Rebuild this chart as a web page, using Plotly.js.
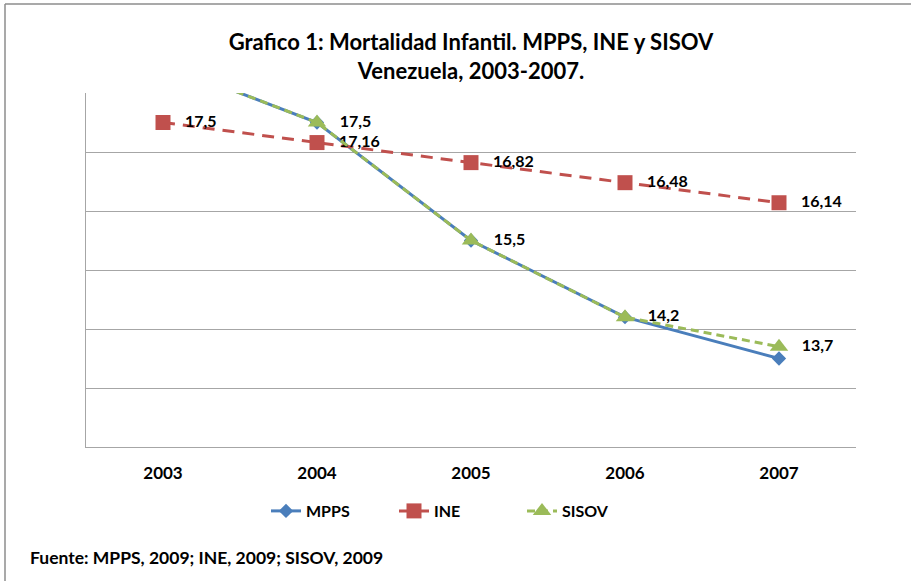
<!DOCTYPE html>
<html>
<head>
<meta charset="utf-8">
<script src="https://cdn.plot.ly/plotly-3.0.1.min.js"></script>
<style>body{margin:0;padding:0;background:#fff;} #chart{width:911px;height:581px;}</style>
</head>
<body>
<div id="chart"></div>
<script>
const years = ['2003', '2004', '2005', '2006', '2007'];
const mpps = [18.5, 17.5, 15.5, 14.2, 13.5];
const ine = [17.5, 17.16, 16.82, 16.48, 16.14];
const sisov = [18.5, 17.5, 15.5, 14.2, 13.7];
const sisovLabelShown = [false, true, true, true, true];

const pad = '\u00a0\u00a0\u00a0';
const fmt = v => pad + String(v).replace('.', ',');
const FONT = 'Lato, "Open Sans", sans-serif';

const W = 911, H = 581;
const L = 86, R = 856, T = 93, B = 447;
const pw = R - L, ph = B - T;
const px = x => (x - L) / pw;
const py = y => (B - y) / ph;

const traces = [
  {
    x: years, y: mpps, name: 'MPPS', type: 'scatter', mode: 'lines+markers',
    line: {color: '#4A7EBB', width: 3},
    marker: {symbol: 'diamond', size: 11, color: '#4A7EBB'},
    cliponaxis: true
  },
  {
    x: years, y: ine, name: 'INE', type: 'scatter', mode: 'lines+markers+text',
    line: {color: '#C0504D', width: 3, dash: '12px,8px'},
    marker: {symbol: 'square', size: 15, color: '#C0504D'},
    text: ine.map(fmt), textposition: 'middle right',
    textfont: {family: FONT, size: 16, color: '#000', weight: 'bold'},
    cliponaxis: true
  },
  {
    x: years, y: sisov, name: 'SISOV', type: 'scatter', mode: 'lines+markers+text',
    line: {color: '#9BBB59', width: 3, dash: '8px,5px'},
    marker: {symbol: 'triangle-up', size: 16, color: '#9BBB59'},
    text: sisov.map((v, i) => sisovLabelShown[i] ? fmt(v) : ''), textposition: 'middle right',
    textfont: {family: FONT, size: 16, color: '#000', weight: 'bold'},
    cliponaxis: true
  }
];

const layout = {
  width: W, height: H,
  margin: {l: L, r: W - R, t: T, b: H - B, pad: 0},
  paper_bgcolor: '#fff', plot_bgcolor: '#fff',
  font: {family: FONT, color: '#000'},
  title: {
    text: '<b>Grafico 1: Mortalidad Infantil. MPPS, INE y SISOV<br>Venezuela, 2003-2007.</b>',
    font: {family: FONT, size: 22, color: '#000'},
    x: px(471), xref: 'paper', xanchor: 'center',
    y: 1 - 50 / H, yref: 'container', yanchor: 'middle'
  },
  xaxis: {
    type: 'category', range: [-0.5, 4.5],
    showgrid: false, zeroline: false,
    showline: true, linecolor: '#A6A6A6', linewidth: 1,
    ticks: '', tickfont: {family: FONT, size: 17, color: '#000', weight: 'bold'},
    ticklabelstandoff: 11, fixedrange: true
  },
  yaxis: {
    range: [12, 18], dtick: 1, tick0: 12,
    showgrid: true, gridcolor: '#A6A6A6', gridwidth: 1,
    zeroline: false, showline: true, linecolor: '#A6A6A6', linewidth: 1,
    showticklabels: false, ticks: '', fixedrange: true
  },
  showlegend: true,
  legend: {
    orientation: 'h', x: px(458), xanchor: 'center',
    y: py(511), yanchor: 'middle',
    font: {family: FONT, size: 16, color: '#000', weight: 'bold'},
    entrywidth: 83, entrywidthmode: 'pixels', tracegroupgap: 0
  },
  annotations: [
    {
      text: '<b>Fuente: MPPS, 2009; INE, 2009; SISOV, 2009</b>',
      xref: 'paper', yref: 'paper', x: px(28), y: py(557),
      xanchor: 'left', yanchor: 'middle', showarrow: false,
      font: {family: FONT, size: 17.5, color: '#000'}
    }
  ],
  shapes: [
    {type: 'line', xref: 'paper', yref: 'paper', x0: px(5), x1: px(915), y0: py(4), y1: py(4), line: {color: '#8C8C8C', width: 1.5}},
    {type: 'line', xref: 'paper', yref: 'paper', x0: px(5), x1: px(5), y0: py(4), y1: py(585), line: {color: '#8C8C8C', width: 1.5}}
  ]
};

Plotly.newPlot('chart', traces, layout, {displayModeBar: false, staticPlot: true});
</script>
</body>
</html>
